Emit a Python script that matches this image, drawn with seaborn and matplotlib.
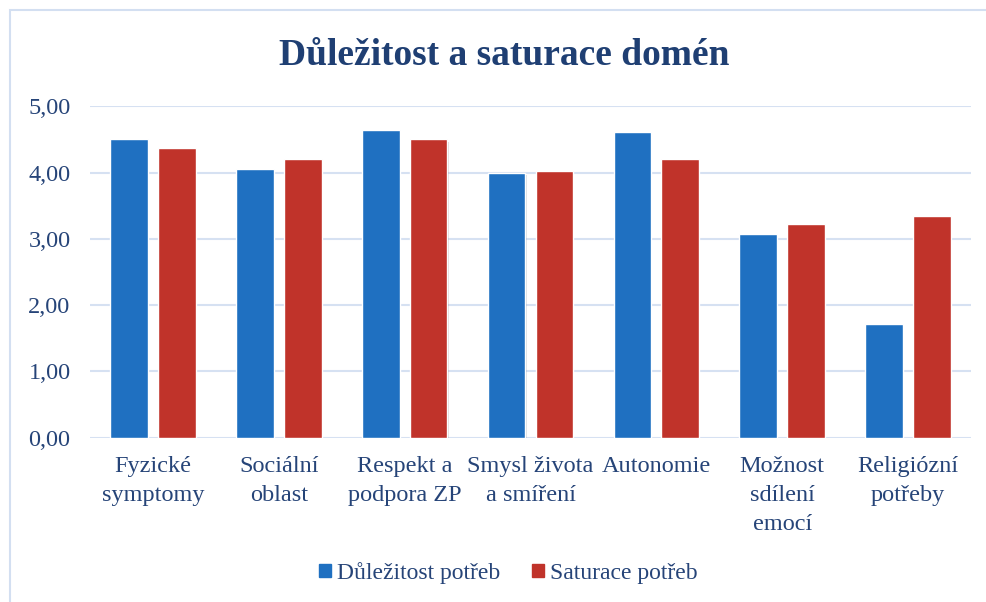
import pandas as pd
import matplotlib.pyplot as plt
import seaborn as sns
from matplotlib.patches import Rectangle
from matplotlib import patheffects

# Data
categories = ['Fyzické\nsymptomy', 'Sociální\noblast', 'Respekt a\npodpora ZP',
              'Smysl života\na smíření', 'Autonomie', 'Možnost\nsdílení\nemocí',
              'Religiózní\npotřeby']
dulezitost = [4.50, 4.06, 4.65, 3.99, 4.61, 3.07, 1.72]
saturace = [4.37, 4.20, 4.50, 4.03, 4.21, 3.22, 3.35]
series = ['Důležitost potřeb', 'Saturace potřeb']
yticks = [0, 1, 2, 3, 4, 5]

df = pd.DataFrame({
    'kategorie': categories * 2,
    'hodnota': dulezitost + saturace,
    'serie': [series[0]] * len(categories) + [series[1]] * len(categories),
})

sns.set_theme(style='white')
plt.rcParams['font.family'] = ['Liberation Serif', 'DejaVu Serif']

text_col = '#264478'
grid_col = '#D6E1F2'
palette = {series[0]: '#1F70C1', series[1]: '#C0332A'}

fig = plt.figure(figsize=(9.87, 6.02), dpi=100)
ax = fig.add_axes([0.0912, 0.2729, 0.8926, 0.5505])

sns.barplot(data=df, x='kategorie', y='hodnota', hue='serie', palette=palette,
            width=0.76, gap=0.21, saturation=1, ax=ax, legend=False, zorder=3)

# soft shadow like the original
for p in ax.patches:
    p.set_path_effects([patheffects.SimplePatchShadow(offset=(0.8, -1.5), alpha=0.15),
                        patheffects.Normal()])

ax.set_ylim(0, 5)
ax.set_xlim(-0.5, len(categories) - 0.5)
ax.set_yticks(yticks)
ax.set_yticklabels([f'{v:.2f}'.replace('.', ',') for v in yticks])
ax.yaxis.grid(True, color=grid_col, linewidth=1.5, zorder=0)
ax.set_axisbelow(True)
for s in ax.spines.values():
    s.set_visible(False)
ax.tick_params(axis='y', length=0, pad=14, labelsize=17.5, labelcolor=text_col)
ax.tick_params(axis='x', length=0, pad=13, labelsize=17.5, labelcolor=text_col)
for lbl in ax.get_xticklabels():
    lbl.set_linespacing(1.5)
    lbl.set_verticalalignment('top')
ax.set_xlabel('')
ax.set_ylabel('')

fig.text(0.511, 0.908, 'Důležitost a saturace domén', ha='center', va='center',
         fontsize=27, fontweight='bold', color='#1F3F73')

handles = [Rectangle((0, 0), 1, 1, color=palette[s]) for s in series]
fig.legend(handles, series, loc='center', bbox_to_anchor=(0.515, 0.048), ncol=2,
           frameon=False, fontsize=17, handlelength=0.5, handleheight=0.5,
           handletextpad=0.27, columnspacing=1.35, labelcolor=text_col)

# light frame around the chart (cropped at right/bottom)
fig.patches.append(Rectangle((10 / 987, -0.1), 1.0, (592 / 602) + 0.1,
                             transform=fig.transFigure, fill=False,
                             edgecolor='#D3DFF1', linewidth=1.5))

fig.savefig('out.png', dpi=100)
plt.close()
